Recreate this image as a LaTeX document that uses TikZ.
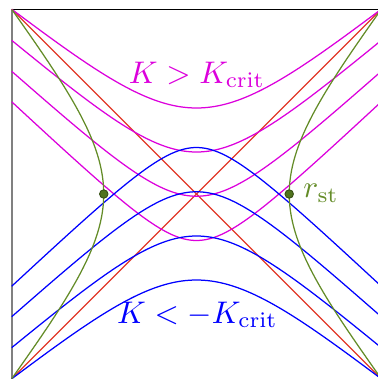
\documentclass[tikz,border=0pt]{standalone}
\definecolor{kmag}{RGB}{220,0,220}
\definecolor{kblue}{RGB}{0,0,255}
\definecolor{kred}{RGB}{225,55,40}
\definecolor{kgreen}{RGB}{100,140,40}
\definecolor{kdot}{RGB}{80,115,30}
\newcommand\magcurve[2]{\draw[magline] plot[domain=0:3.14159,samples=121,smooth] (\x,{#1-pi/2+rad(acos(#2*sin(\x r)))});}
\newcommand\bluecurve[2]{\draw[blueline] plot[domain=0:3.14159,samples=121,smooth] (\x,{-(#1-pi/2+rad(acos(#2*sin(\x r))))});}
\begin{document}
\begin{tikzpicture}[x=37.65pt,y=37.65pt,
  magline/.style={kmag,line width=0.4pt},
  blueline/.style={kblue,line width=0.4pt},
  redline/.style={kred,line width=0.4pt},
  greenline/.style={kgreen,line width=0.4pt},
  stdot/.style={circle,fill=kdot,draw=kdot!70!black,line width=0.3pt,inner sep=0pt,minimum size=2.7pt},
  lbl/.style={inner sep=0pt,font=\normalsize}]
\useasboundingbox (-0.0994,-1.5725) rectangle (3.1134,1.649);
\clip (-0.0994,-1.5725) rectangle (3.1134,1.649);
\coordinate (TL) at (0,1.5708);
\coordinate (BL) at (0,-1.5708);
\coordinate (TR) at (3.14159,1.5708);
\coordinate (BR) at (3.14159,-1.5708);
% frame
\draw[black,line width=0.4pt] (TL) -- (TR);
\draw[gray,line width=0.6pt] (BL) -- (TL);
% horizons
\draw[redline] (BL) -- (TR);
\draw[redline] (TL) -- (BR);
% K > K_crit slices
\magcurve{1.5708}{0.7445}
\magcurve{1.3060}{0.8129}
\magcurve{1.0430}{0.8734}
\magcurve{0.7840}{0.9243}
% K < -K_crit slices
\bluecurve{1.5708}{0.7445}
\bluecurve{1.3060}{0.8129}
\bluecurve{1.0430}{0.8734}
\bluecurve{0.7840}{0.9243}
% stretched horizons
\draw[greenline] plot[domain=-1.5708:1.5708,samples=121,smooth,variable=\t] ({rad(asin(0.705*cos(\t r)))},\t);
\draw[greenline] plot[domain=-1.5708:1.5708,samples=121,smooth,variable=\t] ({pi-rad(asin(0.705*cos(\t r)))},\t);
\node[stdot] (pL) at (0.7826,0) {};
\node[stdot] (pR) at (2.3590,0) {};
% labels
\node[lbl,anchor=base,text=kmag] (kpos) at (1.575,0.943) {$K > K_{\mathrm{crit}}$};
\node[lbl,anchor=base,text=kblue] (kneg) at (1.579,-1.099) {$K < -K_{\mathrm{crit}}$};
\node[lbl,anchor=base west,text=kgreen] (rst) at (2.475,-0.031) {$r_{\mathrm{st}}$};
\end{tikzpicture}
\end{document}
